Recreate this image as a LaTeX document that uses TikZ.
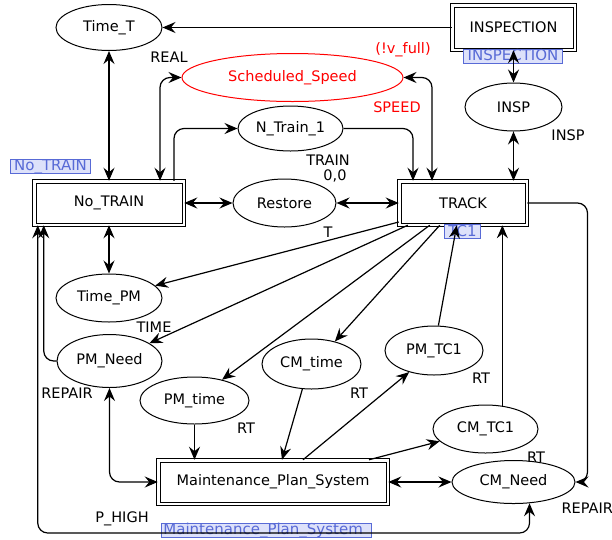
\documentclass[tikz,border=0pt]{standalone}
\usepackage{fontspec}
\setmainfont{DejaVu Sans}
\usetikzlibrary{arrows.meta, shapes.geometric, calc}

\definecolor{tagblue}{RGB}{88,106,214}
\definecolor{tagfill}{RGB}{221,225,250}

\begin{document}
\begin{tikzpicture}[
    x=1pt, y=-1pt,
    line width=1.2pt,
    >={Stealth[length=13pt, width=11pt, inset=4.5pt]},
    every node/.style={font=\fontsize{14.5}{17}\selectfont},
    place/.style={draw, ellipse, inner sep=0pt, line width=1pt},
    subst box/.style={draw, double, double distance=2.5pt, line width=1pt, inner sep=0pt},
    tag label/.style={draw=tagblue, fill=tagfill, text=tagblue, line width=0.8pt,
        inner xsep=4pt, inner ysep=1pt, text height=10.5pt, text depth=1.5pt,
        font=\fontsize{15}{17}\selectfont},
    arc/.style={->},
    both arc/.style={<->},
    inscription/.style={inner sep=0pt}
]

    % === Parameters ===
    \def\rc{10pt} % radius of the bent arcs

    \useasboundingbox (0,0) rectangle (612,539);

    % === Places ===
    \node[place, minimum width=106pt, minimum height=46pt] (TimeT) at (109,27.5) {Time\_T};
    \node[place, draw=red, text=red, minimum width=221pt, minimum height=48pt] (SchedSpeed) at (292.5,77.5) {Scheduled\_Speed};
    \node[place, minimum width=105pt, minimum height=45pt] (NTrain) at (290.5,128.5) {N\_Train\_1};
    \node[place, minimum width=97pt, minimum height=48pt] (INSP) at (513.5,107) {INSP};
    \node[place, minimum width=103pt, minimum height=48pt] (Restore) at (284.5,203) {Restore};
    \node[place, minimum width=106pt, minimum height=48pt] (TimePM) at (109,298) {Time\_PM};
    \node[place, minimum width=105pt, minimum height=53pt] (PMNeed) at (109.5,361) {PM\_Need};
    \node[place, minimum width=109pt, minimum height=47pt] (PMtime) at (194.5,400.5) {PM\_time};
    \node[place, minimum width=99pt, minimum height=50pt] (CMtime) at (311.5,364) {CM\_time};
    \node[place, minimum width=98pt, minimum height=49pt] (PMTC1) at (434,350.5) {PM\_TC1};
    \node[place, minimum width=105pt, minimum height=48pt] (CMTC1) at (485.5,429) {CM\_TC1};
    \node[place, minimum width=123pt, minimum height=43pt] (CMNeed) at (513.5,482) {CM\_Need};

    % === Substitution boxes ===
    \node[subst box, minimum width=122.5pt, minimum height=44.5pt] (INSPECTION) at (513.5,27.5) {INSPECTION};
    \node[subst box, minimum width=149.5pt, minimum height=43.5pt] (NoTrain) at (109,203) {No\_TRAIN};
    \node[subst box, minimum width=127.5pt, minimum height=43.5pt] (TRACK) at (463,203) {TRACK};
    \node[subst box, minimum width=229.5pt, minimum height=43.5pt] (MPS) at (273,482) {Maintenance\_Plan\_System};

    % Tags under the boxes (drawn before the arcs)
    \node[tag label] (tag_insp) at (513,56) {INSPECTION};
    \node[tag label] (tag_notrain) at (50.5,166) {No\_TRAIN};
    \node[tag label] (tag_track) at (462.5,231.5) {TC1};
    \node[tag label, anchor=west, inner xsep=2pt, text width=206pt] (tag_mps) at (161,530) {Maintenance\_Plan\_System};

    % === Arcs ===
    \draw[arc] (INSPECTION.west) -- (TimeT.east);
    \draw[both arc] (INSPECTION.south) -- (INSP.north);
    \draw[both arc] (INSP.south) -- (INSP.south |- TRACK.north);
    \draw[both arc] (TimeT) -- (NoTrain);
    \draw[both arc, rounded corners=\rc] ([xshift=51pt]NoTrain.north) |- (SchedSpeed.west);
    \draw[arc, rounded corners=\rc] ([xshift=65pt]NoTrain.north) |- (NTrain.west);
    \draw[arc, rounded corners=\rc] (NTrain.east) -| ([xshift=-50pt]TRACK.north);
    \draw[both arc, rounded corners=\rc] ([xshift=-31pt]TRACK.north) |- (SchedSpeed.east);
    \draw[both arc] (NoTrain.east) -- (Restore.west);
    \draw[both arc] (Restore.east) -- (TRACK.west);
    \draw[both arc] (NoTrain) -- (TimePM);

    % fan out of TRACK
    \draw[arc] ([yshift=-19pt]TRACK.west) -- (TimePM.15);
    \draw[arc] ([xshift=9pt]TRACK.south west) -- (PMNeed.24);
    \draw[arc] ([xshift=31pt]TRACK.south west) -- (PMtime.37);
    \draw[arc] ([xshift=41pt]TRACK.south west) -- (CMtime.44);
    \draw[arc] (PMTC1.80) -- ([xshift=58pt]TRACK.south west);
    \draw[arc] (CMTC1.54) -- (CMTC1.54 |- TRACK.south);
    \draw[arc, rounded corners=\rc] (TRACK.east) -| ([xshift=12pt]CMNeed.east) -- (CMNeed.east);

    % left side loops
    \draw[both arc, rounded corners=\rc] (PMNeed.south) |- (MPS.west);
    \draw[arc, rounded corners=\rc] (PMNeed.west) -| ([xshift=10pt]NoTrain.south west);
    \coordinate (rail) at (0,533);
    \draw[both arc, rounded corners=\rc] ([xshift=4pt]NoTrain.south west) |- (CMNeed.307 |- rail) -- (CMNeed.307);

    % into and out of Maintenance_Plan_System
    \draw[arc] (PMtime.south) -- (PMtime.south |- MPS.north);
    \draw[arc] (CMtime.250) -- ([xshift=9pt]MPS.north);
    \draw[arc] ([xshift=30pt]MPS.north) -- (PMTC1.221);
    \draw[arc] ([xshift=96pt]MPS.north) -- (CMTC1.195);
    \draw[both arc] (MPS.east) -- (CMNeed.west);

    % === Inscriptions ===
    \node[inscription] (ins_real) at (169,57) {REAL};
    \node[inscription, text=red] (ins_guard) at (403,50) {(!v\_full)};
    \node[inscription, text=red] (ins_speed) at (397,107) {SPEED};
    \node[inscription] (ins_train) at (328,160) {TRAIN};
    \node[inscription] (ins_init) at (335,176) {0,0};
    \node[inscription] (ins_insp) at (568,135) {INSP};
    \node[inscription] (ins_t) at (328,232) {T};
    \node[inscription] (ins_time) at (154,327) {TIME};
    \node[inscription] (ins_repair_l) at (67,393) {REPAIR};
    \node[inscription] (ins_rt_pm) at (246,428) {RT};
    \node[inscription] (ins_rt_mid) at (359,393) {RT};
    \node[inscription] (ins_rt_tc) at (481,378) {RT};
    \node[inscription] (ins_rt_cm) at (536,457) {RT};
    \node[inscription, anchor=west] (ins_repair_r) at (561,508) {REPAIR};
    \node[inscription] (ins_phigh) at (122,519) {P\_HIGH};

\end{tikzpicture}
\end{document}
